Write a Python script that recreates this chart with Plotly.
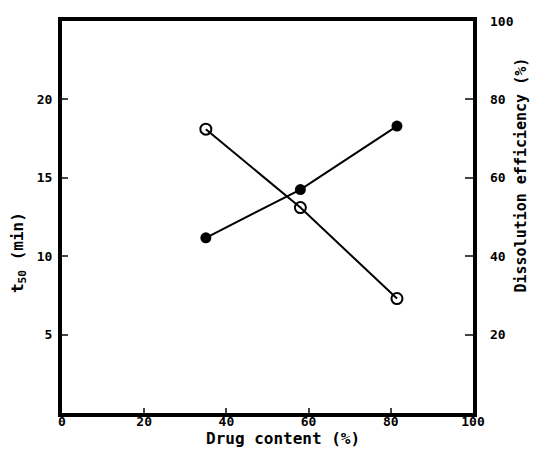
import plotly.graph_objects as go

drug_content = [35, 58, 81.5]
t50_min = [18.1, 13.1, 7.3]
dissolution_eff = [44.7, 57, 73.2]

x_ticks = [0, 20, 40, 60, 80, 100]
y_ticks = [5, 10, 15, 20]
y2_ticks = [20, 40, 60, 80, 100]

tick_font = dict(family="DejaVu Sans Mono", size=13, color="black", weight="bold")
title_font = dict(family="DejaVu Sans Mono", size=16, color="black", weight="bold")
right_title_font = dict(family="DejaVu Sans Mono", size=15, color="black", weight="bold")

fig = go.Figure()
fig.add_trace(go.Scatter(
    x=drug_content, y=t50_min, mode="lines+markers",
    line=dict(color="black", width=2),
    marker=dict(symbol="circle-open", size=11, color="black", line=dict(width=2)),
    name="t50", yaxis="y"))
fig.add_trace(go.Scatter(
    x=drug_content, y=dissolution_eff, mode="lines+markers",
    line=dict(color="black", width=2),
    marker=dict(symbol="circle", size=11, color="black"),
    name="DE", yaxis="y2"))

# page has an 8px body margin; plot area placed at page x 62-473, y 21-413
fig.update_layout(
    width=532, height=447,
    margin=dict(l=54, r=67, t=13, b=42, autoexpand=False),
    paper_bgcolor="white", plot_bgcolor="white",
    showlegend=False,
    font=tick_font,
    xaxis=dict(range=[0, 100], tickvals=x_ticks, ticks="inside", ticklen=5, tickwidth=2,
               showline=True, linewidth=4, linecolor="black", mirror=True,
               showgrid=False, zeroline=False, tickfont=tick_font,
               ticklabelstandoff=-7),
    yaxis=dict(range=[0, 25], tickvals=y_ticks, ticks="inside", ticklen=6, tickwidth=2,
               showline=True, linewidth=4, linecolor="black", mirror=True,
               showgrid=False, zeroline=False, tickfont=tick_font,
               ticklabelstandoff=3),
    yaxis2=dict(range=[0, 100], tickvals=y2_ticks, ticks="inside", ticklen=8, tickwidth=2,
                overlaying="y", side="right", showline=False,
                showgrid=False, zeroline=False, tickfont=tick_font,
                ticklabelstandoff=16),
    annotations=[
        dict(text="Drug content (%)", xref="paper", yref="paper", x=0.538, y=-0.066,
             xanchor="center", yanchor="middle", showarrow=False, font=title_font),
        dict(text="t<sub>50</sub> (min)", xref="paper", yref="paper", x=-0.107, y=0.408,
             xanchor="center", yanchor="middle", showarrow=False, font=title_font,
             textangle=-90),
        dict(text="Dissolution efficiency (%)", xref="paper", yref="paper", x=1.118, y=0.607,
             xanchor="center", yanchor="middle", showarrow=False, font=right_title_font,
             textangle=-90),
    ],
)

fig.write_html("out.html")
